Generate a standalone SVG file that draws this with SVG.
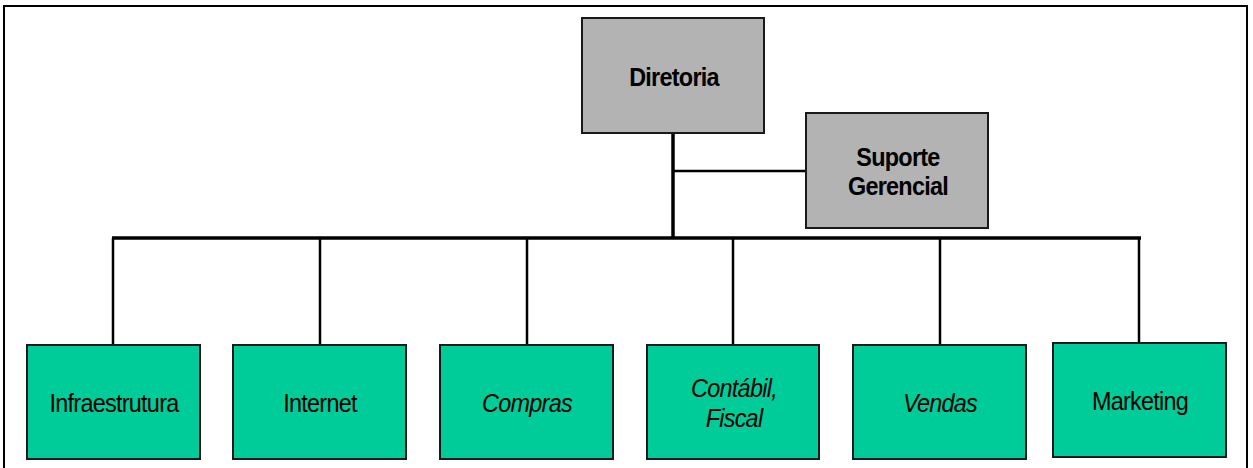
<svg xmlns="http://www.w3.org/2000/svg" width="1253" height="468" viewBox="0 0 1253 468">
  <style>
    .frame { fill: none; stroke: #000; stroke-width: 2; }
    .box { stroke: #1a1a1a; stroke-width: 2; }
    .gray { fill: #b3b3b3; }
    .green { fill: #00cc99; }
    .lbl { font-family: "Liberation Sans", Arial, sans-serif; font-size: 26px; letter-spacing: -0.8px; text-anchor: middle; fill: #000; }
    .b { font-weight: bold; }
    .i { font-style: italic; }
    .trunk { stroke: #000; stroke-width: 3.5; fill: none; }
    .drop { stroke: #000; stroke-width: 2.5; fill: none; }
  </style>

  <!-- page border -->
  <path class="frame" d="M4,470 V6 H1247 V470"/>

  <!-- connectors -->
  <g id="connectors">
    <line class="trunk" x1="673" y1="133" x2="673" y2="238"/>
    <line class="drop" x1="673" y1="171" x2="806" y2="171"/>
    <line class="trunk" x1="112" y1="238" x2="1141" y2="238"/>
    <line class="drop" x1="113" y1="238" x2="113" y2="345"/>
    <line class="drop" x1="320" y1="238" x2="320" y2="345"/>
    <line class="drop" x1="527" y1="238" x2="527" y2="345"/>
    <line class="drop" x1="733" y1="238" x2="733" y2="345"/>
    <line class="drop" x1="940" y1="238" x2="940" y2="345"/>
    <line class="drop" x1="1139" y1="238" x2="1139" y2="343"/>
  </g>

  <!-- labels are set slightly condensed: each label group is translated to its anchor and narrowed -->
  <g id="diretoria">
    <rect class="box gray" x="582" y="18" width="182" height="115"/>
    <g transform="translate(674,86) scale(0.9,1)"><text class="lbl b" x="0" y="0">Diretoria</text></g>
  </g>

  <g id="suporte-gerencial">
    <rect class="box gray" x="806" y="113" width="182" height="115"/>
    <g transform="translate(898,166) scale(0.9,1)"><text class="lbl b" x="0" y="0">Suporte</text></g>
    <g transform="translate(898,195) scale(0.9,1)"><text class="lbl b" x="0" y="0">Gerencial</text></g>
  </g>

  <g id="infraestrutura">
    <rect class="box green" x="27" y="345" width="173" height="114"/>
    <g transform="translate(114,412) scale(0.9,1)"><text class="lbl" x="0" y="0">Infraestrutura</text></g>
  </g>

  <g id="internet">
    <rect class="box green" x="233" y="345" width="173" height="114"/>
    <g transform="translate(320,412) scale(0.9,1)"><text class="lbl" x="0" y="0">Internet</text></g>
  </g>

  <g id="compras">
    <rect class="box green" x="440" y="345" width="173" height="114"/>
    <g transform="translate(527,412) scale(0.9,1)"><text class="lbl i" x="0" y="0">Compras</text></g>
  </g>

  <g id="contabil-fiscal">
    <rect class="box green" x="647" y="345" width="172" height="114"/>
    <g transform="translate(734,397) scale(0.9,1)"><text class="lbl i" x="0" y="0">Contábil,</text></g>
    <g transform="translate(734,427) scale(0.9,1)"><text class="lbl i" x="0" y="0">Fiscal</text></g>
  </g>

  <g id="vendas">
    <rect class="box green" x="853" y="345" width="173" height="114"/>
    <g transform="translate(940,412) scale(0.9,1)"><text class="lbl i" x="0" y="0">Vendas</text></g>
  </g>

  <g id="marketing">
    <rect class="box green" x="1053" y="343" width="173" height="114"/>
    <g transform="translate(1140,410) scale(0.9,1)"><text class="lbl" x="0" y="0">Marketing</text></g>
  </g>
</svg>
